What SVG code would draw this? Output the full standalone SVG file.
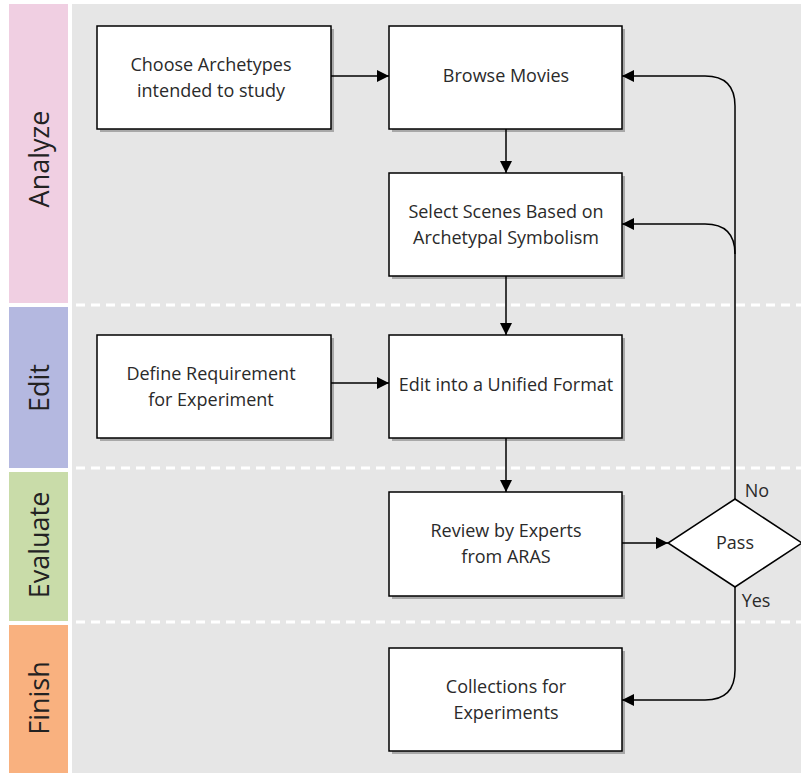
<svg xmlns="http://www.w3.org/2000/svg" width="801" height="773" viewBox="0 0 801 773">
<defs>
<style>
.box{fill:#ffffff;stroke:#000;stroke-width:1.5}
.shadow{fill:#a8a8a8}
.t{font-family:"Open Sans","Noto Sans",sans-serif;font-size:18px;fill:#2a2a2a;text-anchor:middle}
.lane{font-family:"Open Sans","Noto Sans",sans-serif;font-size:27px;fill:#222;text-anchor:middle}
.c{fill:none;stroke:#000;stroke-width:1.5}
.dash{stroke:#fff;stroke-width:3;stroke-dasharray:9 6}
</style>
<marker id="ah" viewBox="0 0 10 10" refX="10" refY="5" markerWidth="12" markerHeight="12" markerUnits="userSpaceOnUse" orient="auto">
<path d="M0,0 L10,5 L0,10 z" fill="#000"/>
</marker>
</defs>
<rect width="801" height="773" fill="#fff"/>
<rect x="72" y="4" width="729" height="769" fill="#e6e6e6"/>
<g id="lanes">
<rect x="9" y="4" width="59" height="299" fill="#f0cfe2"/>
<rect x="9" y="307" width="59" height="161" fill="#b4b8e0"/>
<rect x="9" y="472" width="59" height="149" fill="#c9dca9"/>
<rect x="9" y="625" width="59" height="148" fill="#f9b17f"/>
<text class="lane" transform="translate(49,159) rotate(-90)">Analyze</text>
<text class="lane" transform="translate(49,388) rotate(-90)">Edit</text>
<text class="lane" transform="translate(49,545) rotate(-90)">Evaluate</text>
<text class="lane" transform="translate(49,698) rotate(-90)">Finish</text>
<line class="dash" x1="76" y1="305" x2="801" y2="305"/>
<line class="dash" x1="76" y1="468" x2="801" y2="468"/>
<line class="dash" x1="76" y1="622" x2="801" y2="622"/>
</g>
<g id="n-choose">
<rect class="shadow" x="100" y="29" width="234" height="103"/>
<rect class="box" x="97" y="26" width="234" height="103"/>
<text class="t" x="211" y="71">Choose Archetypes</text>
<text class="t" x="211" y="97">intended to study</text>
</g>
<g id="n-browse">
<rect class="shadow" x="392" y="29" width="233" height="103"/>
<rect class="box" x="389" y="26" width="233" height="103"/>
<text class="t" x="506" y="82">Browse Movies</text>
</g>
<g id="n-select">
<rect class="shadow" x="392" y="176" width="233" height="103"/>
<rect class="box" x="389" y="173" width="233" height="103"/>
<text class="t" x="506" y="218">Select Scenes Based on</text>
<text class="t" x="506" y="244">Archetypal Symbolism</text>
</g>
<g id="n-define">
<rect class="shadow" x="100" y="338" width="234" height="103"/>
<rect class="box" x="97" y="335" width="234" height="103"/>
<text class="t" x="211" y="380">Define Requirement</text>
<text class="t" x="211" y="406">for Experiment</text>
</g>
<g id="n-edit">
<rect class="shadow" x="392" y="338" width="233" height="103"/>
<rect class="box" x="389" y="335" width="233" height="103"/>
<text class="t" x="506" y="391">Edit into a Unified Format</text>
</g>
<g id="n-review">
<rect class="shadow" x="392" y="495" width="233" height="104"/>
<rect class="box" x="389" y="492" width="233" height="104"/>
<text class="t" x="506" y="537">Review by Experts</text>
<text class="t" x="506" y="563">from ARAS</text>
</g>
<g id="n-pass">
<polygon points="735,499 802,543 735,587 668,543" fill="#fff" stroke="#000" stroke-width="1.5"/>
<text class="t" x="735" y="549">Pass</text>
</g>
<g id="n-collect">
<rect class="shadow" x="392" y="651" width="233" height="103"/>
<rect class="box" x="389" y="648" width="233" height="103"/>
<text class="t" x="506" y="693">Collections for</text>
<text class="t" x="506" y="719">Experiments</text>
</g>
<g id="connectors">
<path class="c" d="M331,76 H389" marker-end="url(#ah)"/>
<path class="c" d="M506,129 V173" marker-end="url(#ah)"/>
<path class="c" d="M506,276 V335" marker-end="url(#ah)"/>
<path class="c" d="M331,383 H389" marker-end="url(#ah)"/>
<path class="c" d="M506,438 V492" marker-end="url(#ah)"/>
<path class="c" d="M622,543 H668" marker-end="url(#ah)"/>
<path class="c" d="M735,499 V106 Q735,76 705,76 H622" marker-end="url(#ah)"/>
<path class="c" d="M735,254 Q735,224 705,224 H622" marker-end="url(#ah)"/>
<path class="c" d="M735,587 V670 Q735,700 705,700 H622" marker-end="url(#ah)"/>
<text class="t" x="757" y="497">No</text>
<text class="t" x="756" y="607">Yes</text>
</g>
</svg>
